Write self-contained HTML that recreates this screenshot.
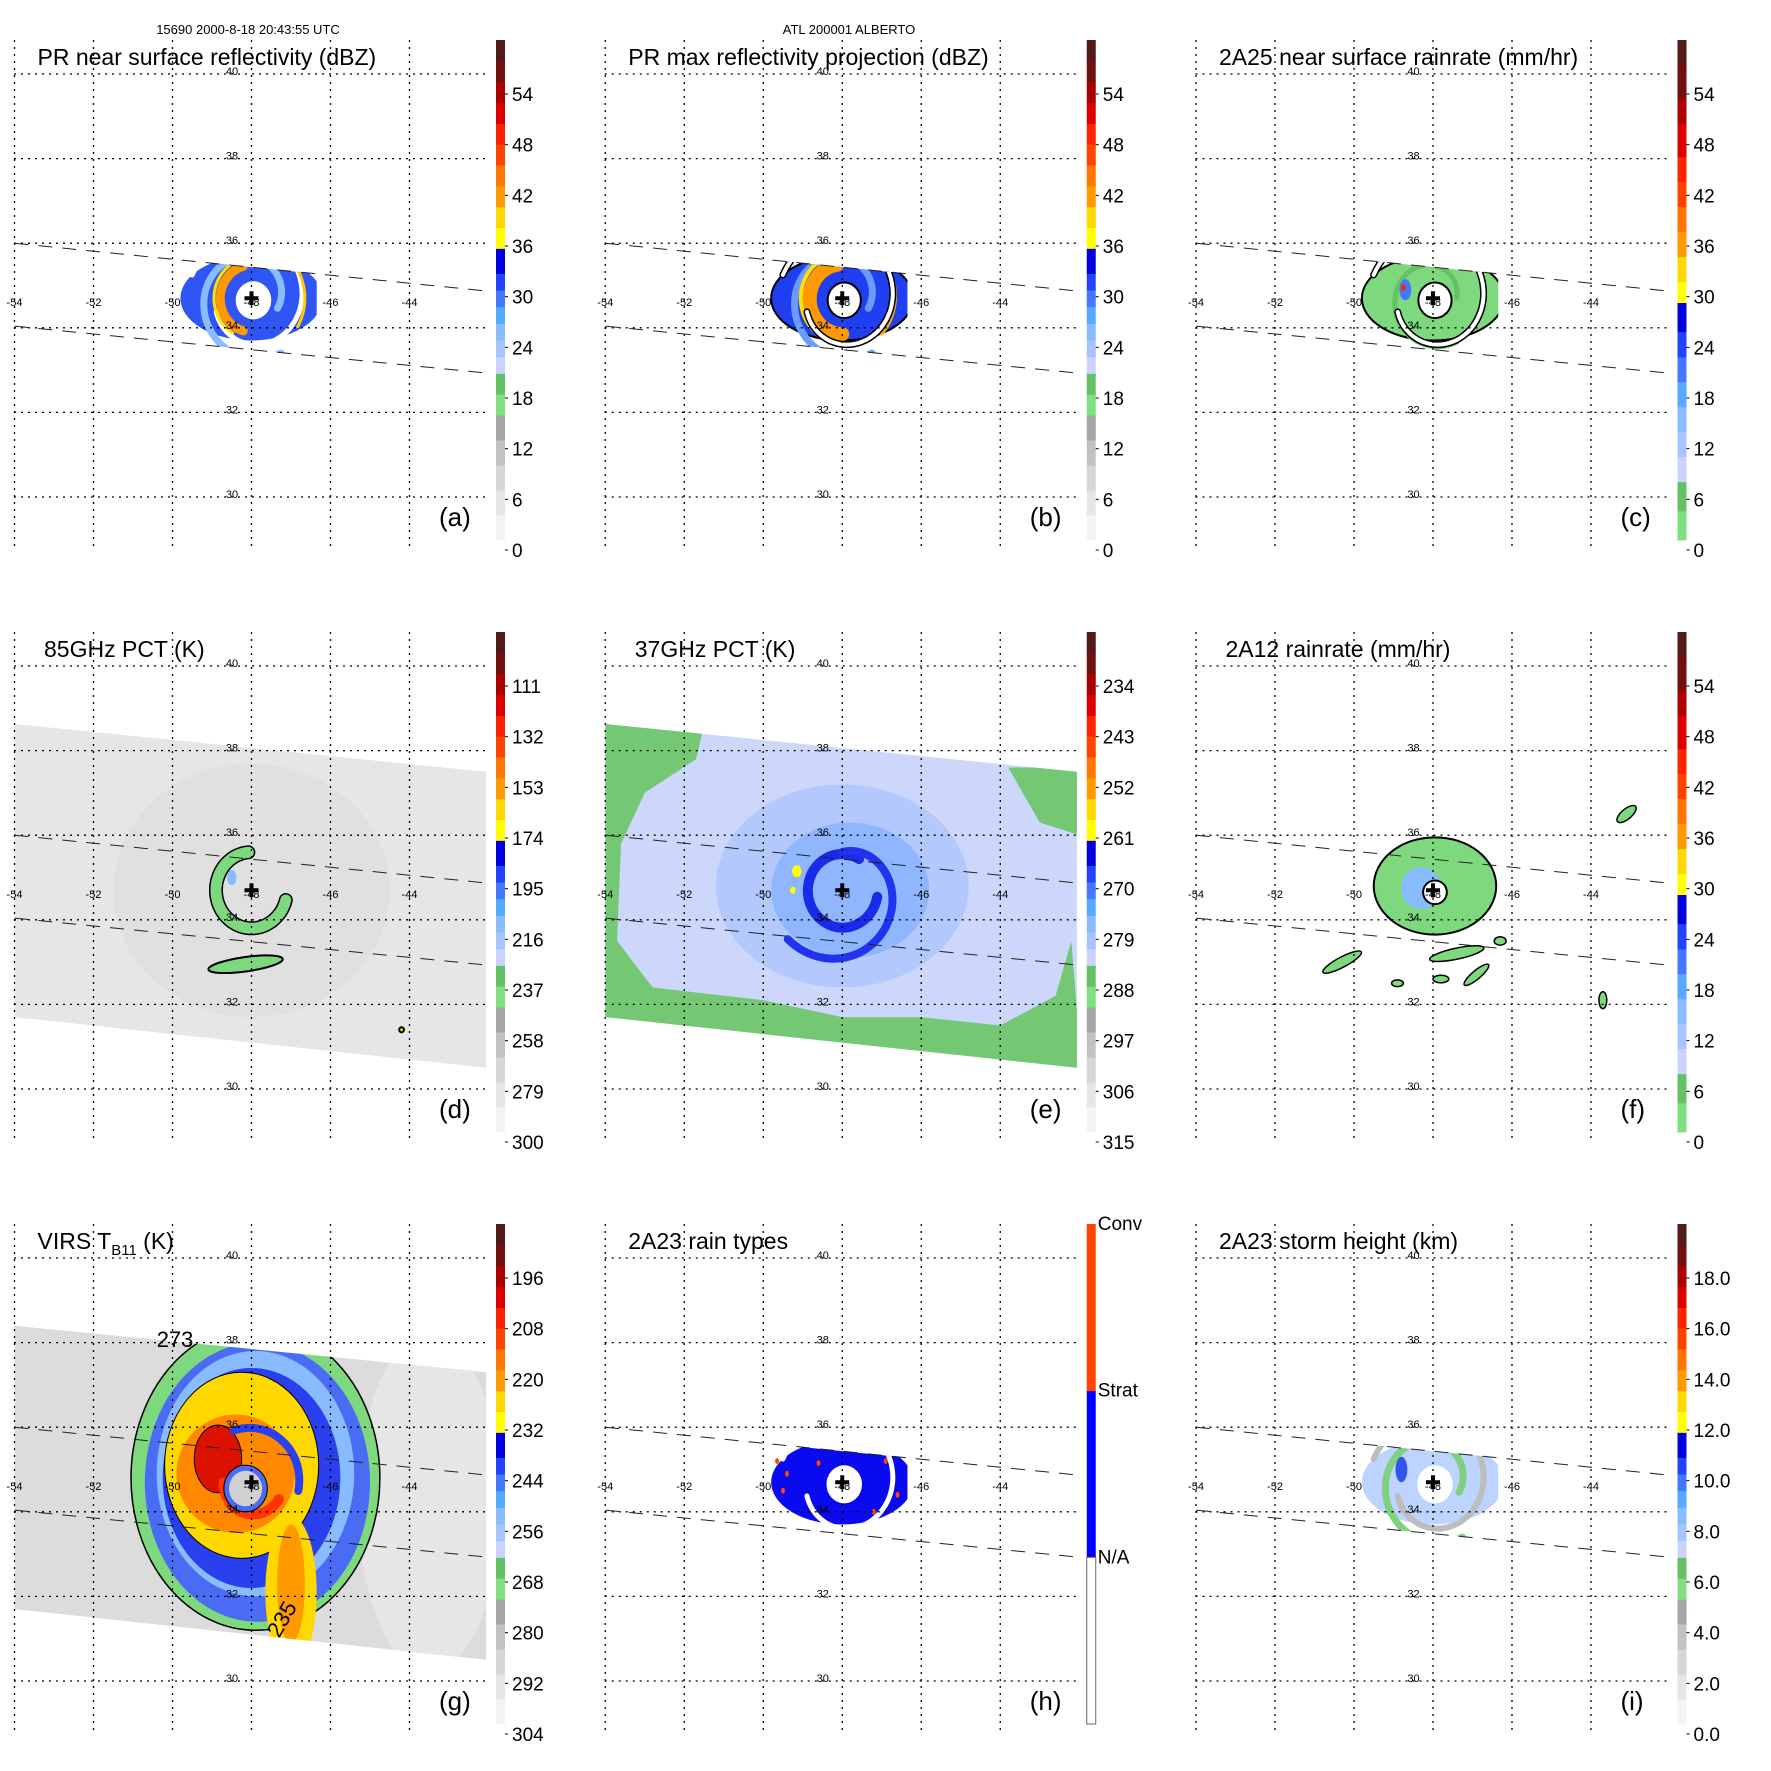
<!DOCTYPE html>
<html><head><meta charset="utf-8"><style>
html,body{margin:0;padding:0;background:#fff;}
svg{display:block;font-family:"Liberation Sans",sans-serif;}
</style></head><body>
<svg id="fig" xmlns="http://www.w3.org/2000/svg" width="1771" height="1771" viewBox="0 0 1771 1771">
<rect x="0" y="0" width="1771" height="1771" fill="#fff"/>
<text x="248" y="34" font-size="13" text-anchor="middle">15690 2000-8-18 20:43:55 UTC</text>
<text x="849" y="34" font-size="13" text-anchor="middle">ATL 200001 ALBERTO</text>
</svg>
<script>
const lonTicks=[-54,-52,-50,-48,-46,-44];
const latTicks=[40,38,36,34,32,30];
const stormCenter=[-48,34.7];
const prSwathTop=[[-54,36.0],[-42.06,34.87]];
const prSwathBottom=[[-54,34.04],[-42.06,32.93]];
const prLonRange=[-49.85,-46.35];
const tmiSwathTop=[[-54,38.63],[-42.06,37.5]];
const tmiSwathBottom=[[-54,31.7],[-42.06,30.5]];
const virsSwathTop=[[-54,38.4],[-42.06,37.3]];
const labelsA=['0','6','12','18','24','30','36','42','48','54'];
const labelsD=['300','279','258','237','216','195','174','153','132','111'];
const labelsE=['315','306','297','288','279','270','261','252','243','234'];
const labelsG=['304','292','280','268','256','244','232','220','208','196'];
const labelsI=['0.0','2.0','4.0','6.0','8.0','10.0','12.0','14.0','16.0','18.0'];
const labelValues=[0,6,12,18,24,30,36,42,48,54];
const cmapA=[[0,3,'#f4f4f4'],[3,6,'#e6e6e6'],[6,9,'#d6d6d6'],[9,12,'#c2c2c2'],[12,15,'#a6a6a6'],[15,17.5,'#80e080'],[17.5,20,'#66c066'],[20,22,'#c8d4ff'],[22,24,'#a8c4ff'],[24,26,'#88bbff'],[26,28,'#55aaff'],[28,30,'#4477ff'],[30,32,'#2244ff'],[32,35,'#0000dd'],[35,37.5,'#ffff00'],[37.5,40,'#ffd800'],[40,42.5,'#ff9900'],[42.5,45,'#ff7700'],[45,47.5,'#ff4400'],[47.5,50,'#ff2200'],[50,52.5,'#dd0000'],[52.5,55,'#aa0000'],[55,57.5,'#701010'],[57.5,60,'#551818']];
const cmapC=[[0,3.5,'#80e080'],[3.5,7,'#66c066'],[7,10,'#c8d4ff'],[10,13,'#a8c4ff'],[13,16,'#88bbff'],[16,19,'#55aaff'],[19,22,'#4477ff'],[22,25,'#2244ff'],[25,28.5,'#0000dd'],[28.5,31,'#ffff00'],[31,34,'#ffd800'],[34,37,'#ff9900'],[37,40,'#ff7700'],[40,43,'#ff4400'],[43,46,'#ff2200'],[46,50,'#dd0000'],[50,53,'#aa0000'],[53,57,'#701010'],[57,60,'#551818']];
const cmapH=[[0,20,'#ffffff'],[20,40,'#0000ff'],[40,60,'#ff4400']];

const NS='http://www.w3.org/2000/svg';
const svg=document.getElementById('fig');
function X(lon){return 14.5+(lon+54)*39.5;}
function Y(lat){return 74+(40-lat)*42.3;}
function V(v){return 540-v*8.333;}
function L(v){return 550-v*8.444;}
function mk(tag,attrs,parent,name,inter){
  const el=document.createElementNS(NS,tag);
  for(const k in attrs) el.setAttribute(k,attrs[k]);
  
  
  parent.appendChild(el);return el;
}
function lineLat(seg,lon){const t=(lon-seg[0][0])/(seg[1][0]-seg[0][0]);return seg[0][1]+t*(seg[1][1]-seg[0][1]);}
function poly(pts){return pts.map(p=>X(p[0]).toFixed(1)+','+Y(p[1]).toFixed(1)).join(' ');}
function ell(g,dx,dy,rx,ry,fill,stroke,sw,name,rot){
  const cx=X(stormCenter[0]+dx),cy=Y(stormCenter[1]+dy);
  const a={cx:cx,cy:cy,rx:rx*39.5,ry:ry*42.3,fill:fill};
  if(stroke){a.stroke=stroke;a['stroke-width']=sw;}
  if(rot)a.transform='rotate('+rot+' '+cx+' '+cy+')';
  return mk('ellipse',a,g,name);
}
function spiral(g,r0,r1,a0,a1,w,color,name,dx,dy){
  dx=dx||0;dy=dy||0;const pts=[];const n=60;
  for(let i=0;i<=n;i++){const t=i/n;const a=(a0+(a1-a0)*t)*Math.PI/180;const r=r0+(r1-r0)*t;
    pts.push([stormCenter[0]+dx+r*Math.cos(a),stormCenter[1]+dy+r*Math.sin(a)]);}
  return mk('polyline',{points:poly(pts),fill:'none',stroke:color,'stroke-width':w,'stroke-linecap':'round','stroke-linejoin':'round'},g,name);
}
function outlinedSpiral(g,r0,r1,a0,a1,w,color,name,dx,dy){
  spiral(g,r0,r1,a0,a1,w+3,'#000',name+'-outline',dx,dy);
  spiral(g,r0,r1,a0,a1,w,color,name,dx,dy);
}
const panels=[
 {id:'a',col:0,row:0,title:'PR near surface reflectivity (dBZ)',tx:37.5,cmap:cmapA,labels:labelsA},
 {id:'b',col:1,row:0,title:'PR max reflectivity projection (dBZ)',tx:37.5,cmap:cmapA,labels:labelsA},
 {id:'c',col:2,row:0,title:'2A25 near surface rainrate (mm/hr)',tx:37.5,cmap:cmapC,labels:labelsA},
 {id:'d',col:0,row:1,title:'85GHz PCT (K)',tx:44,cmap:cmapA,labels:labelsD},
 {id:'e',col:1,row:1,title:'37GHz PCT (K)',tx:44,cmap:cmapA,labels:labelsE},
 {id:'f',col:2,row:1,title:'2A12 rainrate (mm/hr)',tx:44,cmap:cmapC,labels:labelsA},
 {id:'g',col:0,row:2,title:'VIRS',tx:37.5,cmap:cmapA,labels:labelsG},
 {id:'h',col:1,row:2,title:'2A23 rain types',tx:37.5,cmap:cmapH,labels:null},
 {id:'i',col:2,row:2,title:'2A23 storm height (km)',tx:37.5,cmap:cmapA,labels:labelsI}
];
const defs=mk('defs',{},svg,'defs');
panels.forEach(p=>{
  const g=mk('g',{transform:'translate('+(p.col*590.75)+','+(p.row*592)+')'},svg,'panel-'+p.id);
  const cpPR=mk('clipPath',{id:'pr-'+p.id},defs,'pr-clip-'+p.id);
  mk('polygon',{points:poly([[prLonRange[0],lineLat(prSwathTop,prLonRange[0])],[prLonRange[1],lineLat(prSwathTop,prLonRange[1])],[prLonRange[1],lineLat(prSwathBottom,prLonRange[1])],[prLonRange[0],lineLat(prSwathBottom,prLonRange[0])]])},cpPR,'pr-clip-shape');
  const top=p.id==='g'?virsSwathTop:tmiSwathTop;
  const cpT=mk('clipPath',{id:'tmi-'+p.id},defs,'tmi-clip-'+p.id);
  const tmiPts=[top[0],top[1],tmiSwathBottom[1],tmiSwathBottom[0]];
  mk('polygon',{points:poly(tmiPts)},cpT,'tmi-clip-shape');
  const data=mk('g',{},g,'image-layer-'+p.id);
  drawPanel(p.id,data);
  const grid=mk('g',{stroke:'#000','stroke-width':1.3,'stroke-dasharray':'2,5',fill:'none'},g,'grid-'+p.id);
  lonTicks.forEach(lon=>{mk('line',{x1:X(lon),y1:40,x2:X(lon),y2:548},grid,'meridian');});
  latTicks.forEach(lat=>{mk('line',{x1:14,y1:Y(lat),x2:487,y2:Y(lat)},grid,'parallel');});
  const sw=mk('g',{stroke:'#222','stroke-width':1,'stroke-dasharray':'14,10',fill:'none'},g,'pr-swath-edges-'+p.id);
  mk('line',{x1:X(prSwathTop[0][0]),y1:Y(prSwathTop[0][1]),x2:X(prSwathTop[1][0]),y2:Y(prSwathTop[1][1])},sw,'pr-swath-top');
  mk('line',{x1:X(prSwathBottom[0][0]),y1:Y(prSwathBottom[0][1]),x2:X(prSwathBottom[1][0]),y2:Y(prSwathBottom[1][1])},sw,'pr-swath-bottom');
  lonTicks.forEach(lon=>{const t=mk('text',{x:X(lon),y:306,'font-size':11,'text-anchor':'middle'},g,'lon-label');t.textContent=String(lon);});
  latTicks.forEach(lat=>{const t=mk('text',{x:232,y:Y(lat)+1,'font-size':11,'text-anchor':'middle'},g,'lat-label');t.textContent=String(lat);});
  const cx=X(stormCenter[0]),cy=Y(stormCenter[1]);
  mk('path',{d:'M'+(cx-7)+' '+cy+'H'+(cx+7)+'M'+cx+' '+(cy-7)+'V'+(cy+7),stroke:'#000','stroke-width':4},g,'storm-center-marker');
  const tt=mk('text',{x:p.tx,y:65,'font-size':23},g,'panel-title-'+p.id);
  if(p.id==='g'){
    tt.textContent='VIRS T';
    const s=mk('tspan',{'font-size':15,dy:6},tt,'subscript');s.textContent='B11';
    const r=mk('tspan',{dy:-6},tt,'unit');r.textContent=' (K)';
  } else tt.textContent=p.title;
  const pl=mk('text',{x:439,y:526,'font-size':26},g,'panel-letter-'+p.id);pl.textContent='('+p.id+')';
  const cb=mk('g',{},g,'colorbar-'+p.id);
  p.cmap.forEach(b=>{mk('rect',{x:496,y:V(b[1]),width:9,height:V(b[0])-V(b[1])+0.5,fill:b[2]},cb,'colorbar-bin');});
  if(p.labels){
    p.labels.forEach((l,i)=>{
      const y=L(labelValues[i]);
      mk('line',{x1:505,y1:y,x2:508,y2:y,stroke:'#000','stroke-width':1},cb,'colorbar-tick');
      const t=mk('text',{x:512,y:y+7,'font-size':19},cb,'colorbar-label');t.textContent=l;});
  } else {
    mk('rect',{x:496,y:V(20),width:9,height:V(0)-V(20),fill:'#fff',stroke:'#666','stroke-width':1},cb,'colorbar-na-bin');
    [['Conv',60],['Strat',40],['N/A',20]].forEach(a=>{const t=mk('text',{x:507,y:V(a[1])+6,'font-size':19},cb,'colorbar-label');t.textContent=a[0];});
  }
});

function drawPanel(id,g){
  if(['a','b','c','h','i'].includes(id)){
    const c=mk('g',{'clip-path':'url(#pr-'+id+')'},g,'pr-storm-'+id);
    if(id==='a'){
      ell(c,0,0,1.8,1.0,'#2f55f5',null,0,'rain-area');
      spiral(c,0.7,1.5,-20,300,7,'#88bbff','light-band');
      spiral(c,0.95,1.6,200,520,5,'#ffffff','gap-band');
      spiral(c,0.78,0.8,105,255,9,'#ff9900','convective-arc');
      spiral(c,0.95,0.95,120,240,3,'#ffe000','yellow-edge');
      spiral(c,1.35,1.35,-30,60,3,'#ffcc00','outer-yellow');
      ell(c,0.05,-0.05,0.45,0.45,'#fff',null,0,'eye');
    } else if(id==='b'){
      ell(c,0,0,1.8,1.0,'#1f3ff0','#000',2,'rain-area');
      spiral(c,0.7,1.5,-20,300,7,'#6a9cff','light-band');
      spiral(c,0.8,0.85,100,270,14,'#ff9900','convective-arc');
      spiral(c,1.05,1.05,130,230,4,'#ffe000','yellow-edge');
      spiral(c,1.3,1.4,-40,80,4,'#ffaa00','outer-orange');
      outlinedSpiral(c,0.95,1.6,200,520,4,'#ffffff','gap-band');
      ell(c,0.05,-0.05,0.42,0.42,'#fff','#000',2,'eye');
    } else if(id==='c'){
      ell(c,0,0,1.8,1.0,'#7ed87e','#000',2,'rain-area');
      spiral(c,0.6,1.2,0,300,5,'#66c066','band');
      outlinedSpiral(c,0.95,1.6,200,520,4,'#ffffff','gap-band');
      ell(c,-0.7,0.2,0.15,0.25,'#4477ff',null,0,'heavy-rain');
      ell(c,-0.75,0.25,0.06,0.08,'#ff2200',null,0,'heaviest-rain');
      ell(c,0.05,-0.05,0.42,0.42,'#fff','#000',2,'eye');
    } else if(id==='h'){
      ell(c,0,0,1.8,1.0,'#0a0af0',null,0,'stratiform-area');
      spiral(c,0.95,1.6,200,520,5,'#ffffff','gap-band');
      spiral(c,1.3,1.3,60,120,2,'#ffffff','gap-band-2');
      ell(c,0.05,-0.05,0.45,0.45,'#fff',null,0,'eye');
      [[-1.65,0.5],[-1.5,-0.2],[-1.4,0.2],[1.1,0.5],[0.8,-0.7],[-0.6,0.45],[1.4,-0.3]].forEach(q=>ell(c,q[0],q[1],0.05,0.07,'#ff4400',null,0,'convective-pixel'));
    } else if(id==='i'){
      ell(c,0,0,1.8,1.0,'#bcd4ff',null,0,'echo-area');
      spiral(c,0.7,1.5,-20,300,7,'#7fd07f','green-band');
      spiral(c,0.95,1.6,200,520,6,'#bdbdbd','grey-band');
      ell(c,-0.8,0.3,0.15,0.3,'#3355ee',null,0,'tall-echo');
      ell(c,0.05,-0.05,0.45,0.45,'#fff',null,0,'eye');
    }
  } else if(id==='d'){
    const c=mk('g',{'clip-path':'url(#tmi-d)'},g,'tmi-swath-d');
    mk('rect',{x:0,y:0,width:500,height:560,fill:'#e6e6e6'},c,'swath-fill');
    ell(c,0,0,3.5,3.0,'#e0e0e0',null,0,'storm-haze');
    outlinedSpiral(g,0.9,0.9,95,345,11,'#7ed87e','eyewall-ring');
    ell(g,-0.5,0.3,0.12,0.18,'#88bbff',null,0,'cold-pixel');
    ell(g,-0.15,-1.75,0.95,0.17,'#7ed87e','#000',2,'southern-band',-8);
    ell(g,3.8,-3.3,0.06,0.06,'#ffe000','#000',2,'small-cell');
  } else if(id==='e'){
    const c=mk('g',{'clip-path':'url(#tmi-e)'},g,'tmi-swath-e');
    mk('rect',{x:0,y:0,width:500,height:560,fill:'#cdd7fb'},c,'swath-fill');
    mk('polygon',{fill:'#74c874',points:poly([[-54,38.8],[-51.5,38.6],[-51.7,37.8],[-53,37.0],[-53.6,35.8],[-53.7,33.5],[-52.8,32.4],[-50,32.1],[-48,31.7],[-46,31.7],[-44,31.5],[-42.6,32.2],[-42.2,33.5],[-41.9,30],[-54,30]])},c,'green-edge');
    mk('polygon',{fill:'#74c874',points:poly([[-43.8,37.6],[-42,37.6],[-42,36.0],[-43,36.3]])},c,'green-ne');
    ell(c,0,0.1,3.2,2.4,'#b3c9fd',null,0,'outer-rain');
    ell(c,0.2,0,2.0,1.6,'#8fb6ff',null,0,'inner-rain');
    spiral(c,0.85,0.9,60,350,10,'#1a2ae8','eyewall');
    spiral(c,0.9,1.8,90,-140,8,'#2233ee','spiral-band');
    ell(c,-1.15,0.45,0.12,0.14,'#ffff00',null,0,'scattering-max');
    ell(c,-1.25,0.0,0.07,0.08,'#ffff00',null,0,'scattering-max-2');
  } else if(id==='f'){
    ell(g,0.05,0.1,1.55,1.15,'#7ed87e','#000',2,'rain-disk');
    ell(g,-0.3,0.05,0.5,0.5,'#88bbff',null,0,'heavy-rain');
    ell(g,0.05,-0.05,0.3,0.28,'#fff','#000',2,'eye');
    [[-2.3,-1.7,0.55,0.12,-28],[-0.9,-2.2,0.15,0.08,0],[0.2,-2.1,0.2,0.09,0],[1.1,-2.0,0.4,0.1,-40],[1.7,-1.2,0.15,0.1,0],[0.6,-1.5,0.7,0.13,-12],[4.9,1.8,0.3,0.12,-40],[4.3,-2.6,0.1,0.2,0]].forEach(q=>ell(g,q[0],q[1],q[2],q[3],'#7ed87e','#000',1.5,'rain-fragment',q[4]));
  } else if(id==='g'){
    const c=mk('g',{'clip-path':'url(#tmi-g)'},g,'virs-swath');
    mk('rect',{x:0,y:0,width:500,height:560,fill:'#dcdcdc'},c,'swath-fill');
    ell(c,4.5,-0.5,1.8,4,'#e6e6e6',null,0,'clear-sky');
    ell(c,0.1,0.1,3.15,3.6,'#7ed87e','#000',1.5,'outer-cloud');
    ell(c,0.15,0.0,2.85,3.3,'#4a6cf5',null,0,'cold-cloud');
    ell(c,0.1,0.2,2.5,2.9,'#88bbff',null,0,'band-light');
    ell(c,0.0,0.1,2.25,2.6,'#2a40ee',null,0,'band-blue');
    ell(c,-0.25,0.4,1.95,2.2,'#ffd800','#000',1,'yellow-shield');
    ell(c,1.0,-2.6,0.65,1.8,'#ffd800',null,0,'southern-arm');
    ell(c,1.0,-2.4,0.35,1.4,'#ff9900',null,0,'southern-arm-core');
    ell(c,-0.4,0.2,1.5,1.4,'#ff8800',null,0,'orange-core');
    ell(c,-0.85,0.55,0.6,0.8,'#dd1100','#000',1,'red-core');
    spiral(c,0.7,0.8,180,330,10,'#ff3300','red-arc');
    spiral(c,1.2,1.3,-10,110,8,'#2a40ee','inner-blue-band');
    ell(c,-0.15,-0.15,0.55,0.55,'#4a6cf5','#000',1,'eye-ring');
    ell(c,-0.15,-0.15,0.42,0.42,'#d0d0d0',null,0,'eye');
    const t1=mk('text',{x:X(-50.4),y:Y(37.9),'font-size':22},g,'contour-label');t1.textContent='273';
    const t2=mk('text',{x:X(-47.3),y:Y(31.0),'font-size':22,transform:'rotate(-60 '+X(-47.3)+' '+Y(31.0)+')'},g,'contour-label');t2.textContent='235';
  }
}
</script>
</body></html>
